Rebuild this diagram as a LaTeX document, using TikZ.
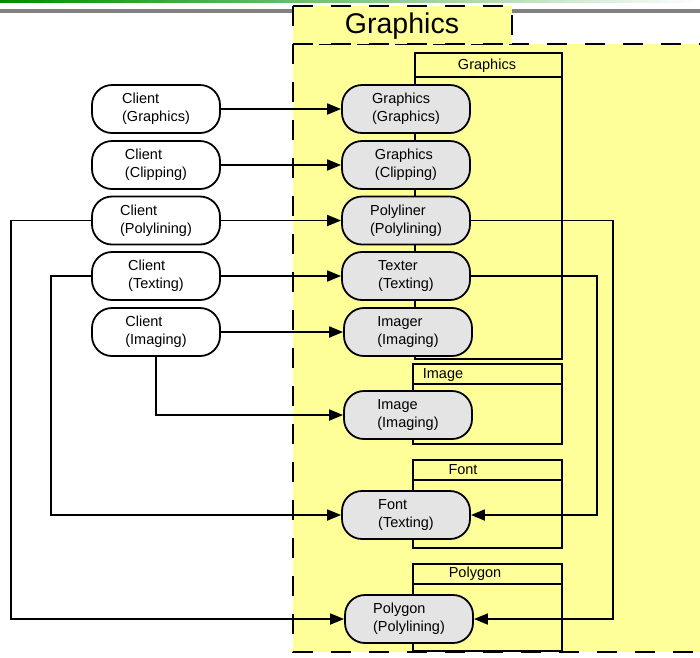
\documentclass[tikz,border=0pt]{standalone}
\usepackage{fontspec}
\setmainfont{Liberation Sans}
\usetikzlibrary{arrows.meta}
\definecolor{padyellow}{RGB}{255,255,153}
\definecolor{unitgray}{RGB}{228,228,228}
\begin{document}
\begin{tikzpicture}[x=1pt, y=-1pt, line width=1.8pt,
      every node/.style = {font=\fontsize{14.5}{18}\selectfont},
      client/.style = {shape=rectangle, rounded corners=20pt, draw,
        align=left, minimum width=128pt, minimum height=48pt,
        inner sep=0pt, fill=white},
      unit/.style = {client, fill=unitgray},
      package/.style = {draw, fill=padyellow},
      region/.style = {draw, dash pattern=on 20pt off 18pt, fill=padyellow},
      call/.style = {-{Triangle[length=14pt,width=11pt]}}]
    \useasboundingbox (0,0) rectangle (700,657);
    % page header
    \shade[left color=green!55!black, right color=white] (0,0) rectangle (700,2);
    \fill[gray] (0,8.5) rectangle (700,13);
    % the Graphics region
    \draw[region] (293,44) rectangle (715,652);
    \draw[region] (293,6) rectangle (512,44);
    \node[font=\fontsize{28.5}{32}\selectfont] (regiontitle) at (402,26) {Graphics};
    % packages
    \draw[package] (415,53) rectangle (562,359);
    \draw (415,77) -- (562,77);
    \node (graphicspkg) at (487,66) {Graphics};
    \draw[package] (413,364) rectangle (562,444);
    \draw (413,384) -- (562,384);
    \node (imagepkg) at (443,375) {Image};
    \draw[package] (413,460) rectangle (562,548);
    \draw (413,480) -- (562,480);
    \node (fontpkg) at (463,470) {Font};
    \draw[package] (413,564) rectangle (562,651);
    \draw (413,584) -- (562,584);
    \node (polygonpkg) at (475,574) {Polygon};
    % clients
    \node[client] (cgraphics) at (156,109) {Client\\(Graphics)};
    \node[client] (cclipping) at (156,165) {Client\\(Clipping)};
    \node[client] (cpolylining) at (156,220.5) {Client\\(Polylining)};
    \node[client] (ctexting) at (156,276) {Client\\(Texting)};
    \node[client] (cimaging) at (156,332) {Client\\(Imaging)};
    % units
    \node[unit] (ugraphics) at (406,109) {Graphics\\(Graphics)};
    \node[unit] (uclipping) at (406,165) {Graphics\\(Clipping)};
    \node[unit] (upolyliner) at (406,220.5) {Polyliner\\(Polylining)};
    \node[unit] (utexter) at (406,276) {Texter\\(Texting)};
    \node[unit] (uimager) at (408,332) {Imager\\(Imaging)};
    \node[unit] (uimage) at (408,415) {Image\\(Imaging)};
    \node[unit] (ufont) at (406,515) {Font\\(Texting)};
    \node[unit] (upolygon) at (409,619) {Polygon\\(Polylining)};
    % calls
    \draw[call] (cgraphics) -- (ugraphics);
    \draw[call] (cclipping) -- (uclipping);
    \draw[call] (cpolylining) -- (upolyliner);
    \draw[call] (ctexting) -- (utexter);
    \draw[call] (cimaging) -- (uimager);
    \draw[call] (cimaging.south) |- (uimage.west);
    \draw[call] (cpolylining.west) -- ++(-80,0) |- (upolygon.west);
    \draw[call] (ctexting.west) -- ++(-40,0) |- (ufont.west);
    \draw[call] (upolyliner.east) -- ++(142,0) |- (upolygon.east);
    \draw[call] (utexter.east) -- ++(126,0) |- (ufont.east);
\end{tikzpicture}
\end{document}
